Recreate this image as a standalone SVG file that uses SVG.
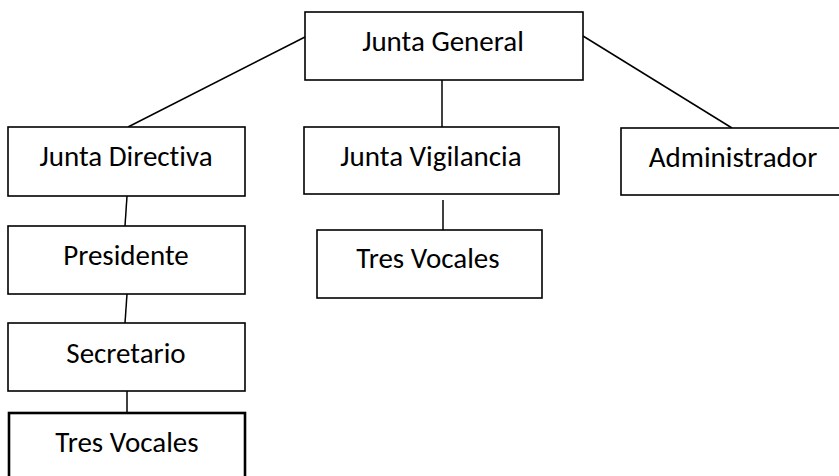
<svg xmlns="http://www.w3.org/2000/svg" width="839" height="476" viewBox="0 0 839 476">
<style>
.box{fill:#fff;stroke:#000;stroke-width:1.6}
.thick{stroke-width:2.6}
.lbl{font-family:Carlito,Calibri,"Liberation Sans",sans-serif;font-size:29px;fill:#000;text-anchor:middle;font-variant-ligatures:none}
.con line{stroke:#000;stroke-width:1.5}
</style>
<rect width="839" height="476" fill="#fff"/>
<g class="con" id="connectors">
<line x1="305" y1="37" x2="128" y2="127"/>
<line x1="442" y1="80" x2="442" y2="127"/>
<line x1="583" y1="36" x2="732" y2="128"/>
<line x1="127" y1="196" x2="125" y2="226"/>
<line x1="443" y1="200" x2="443" y2="230"/>
<line x1="127" y1="294" x2="125" y2="323"/>
<line x1="127" y1="386" x2="127" y2="413"/>
</g>
<g id="junta-general"><rect class="box" x="305" y="12" width="278" height="68"/><text class="lbl" x="443" y="51">Junta General</text></g>
<g id="junta-directiva"><rect class="box" x="8" y="127" width="237" height="69"/><text class="lbl" x="126" y="166">Junta Directiva</text></g>
<g id="junta-vigilancia"><rect class="box" x="304" y="127" width="255" height="67"/><text class="lbl" x="431" y="166">Junta Vigilancia</text></g>
<g id="administrador"><rect class="box" x="621" y="128" width="230" height="67"/><text class="lbl" x="733" y="167">Administrador</text></g>
<g id="presidente"><rect class="box" x="8" y="226" width="237" height="68"/><text class="lbl" x="126" y="265">Presidente</text></g>
<g id="tres-vocales-vig"><rect class="box" x="317" y="230" width="225" height="68"/><text class="lbl" x="428" y="268">Tres Vocales</text></g>
<g id="secretario"><rect class="box" x="8" y="323" width="237" height="68"/><text class="lbl" x="126" y="363">Secretario</text></g>
<g id="tres-vocales-dir"><rect class="box thick" x="9" y="413" width="236" height="80"/><text class="lbl" x="127" y="452">Tres Vocales</text></g>
</svg>
